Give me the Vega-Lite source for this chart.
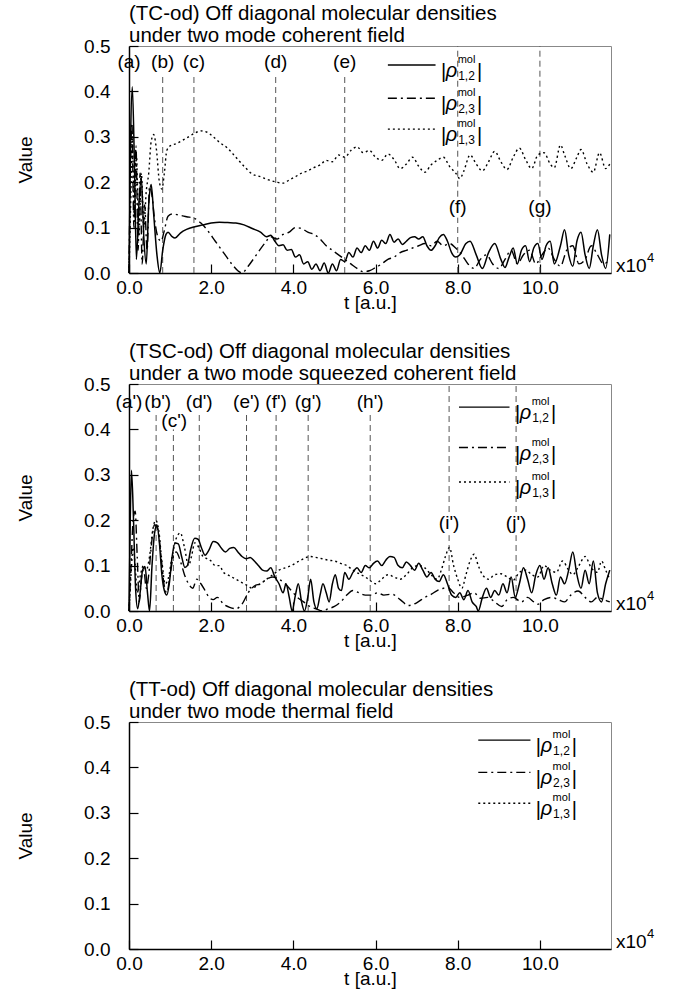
{
  "$schema": "https://vega.github.io/schema/vega-lite/v6.json",
  "padding": {"left": 16, "top": 3, "right": 0, "bottom": 0},
  "spacing": 28,
  "config": {
    "font": "Liberation Sans",
    "view": {"stroke": "#888", "strokeWidth": 1},
    "axis": {"domainColor": "black", "domainWidth": 1.5, "tickColor": "black", "tickSize": -9, "tickWidth": 1.2, "labelFontSize": 19, "labelColor": "black", "titleFontSize": 19, "titleFontWeight": "normal", "titleColor": "black", "grid": false, "labelFont": "Liberation Sans", "titleFont": "Liberation Sans", "labelFlush": false},
    "title": {"fontSize": 20.5, "fontWeight": "normal", "font": "Liberation Sans", "anchor": "start", "frame": "group", "lineHeight": 22, "offset": -9, "color": "black"},
    "text": {"font": "Liberation Sans", "color": "black"},
    "line": {"interpolate": "monotone"}
  },
  "datasets": {
    "p1a": [{"t":0,"v":0},{"t":0.04,"v":0.3},{"t":0.08,"v":0.41},{"t":0.13,"v":0.25},{"t":0.18,"v":0.03},{"t":0.24,"v":0.15},{"t":0.3,"v":0.21},{"t":0.36,"v":0.08},{"t":0.42,"v":0.02},{"t":0.48,"v":0.15},{"t":0.54,"v":0.195},{"t":0.6,"v":0.13},{"t":0.68,"v":0.04},{"t":0.75,"v":0},{"t":0.82,"v":0.05},{"t":0.9,"v":0.085},{"t":0.95,"v":0.09},{"t":1.05,"v":0.08},{"t":1.12,"v":0.077},{"t":1.25,"v":0.088},{"t":1.4,"v":0.096},{"t":1.6,"v":0.102},{"t":1.8,"v":0.106},{"t":2.0,"v":0.11},{"t":2.2,"v":0.112},{"t":2.4,"v":0.111},{"t":2.6,"v":0.11},{"t":2.8,"v":0.106},{"t":3.0,"v":0.098},{"t":3.2,"v":0.09},{"t":3.35,"v":0.08},{"t":3.45,"v":0.083},{"t":3.55,"v":0.07},{"t":3.65,"v":0.06},{"t":3.75,"v":0.062},{"t":3.85,"v":0.05},{"t":3.95,"v":0.052},{"t":4.05,"v":0.035},{"t":4.15,"v":0.04},{"t":4.25,"v":0.02},{"t":4.35,"v":0.025},{"t":4.45,"v":0.008},{"t":4.55,"v":0.02},{"t":4.65,"v":0.005},{"t":4.75,"v":0.022},{"t":4.85,"v":0},{"t":4.95,"v":0.02},{"t":5.05,"v":0.005},{"t":5.15,"v":0.03},{"t":5.25,"v":0.025},{"t":5.35,"v":0.045},{"t":5.45,"v":0.035},{"t":5.55,"v":0.055},{"t":5.65,"v":0.045},{"t":5.75,"v":0.06},{"t":5.85,"v":0.05},{"t":5.95,"v":0.07},{"t":6.05,"v":0.055},{"t":6.15,"v":0.072},{"t":6.25,"v":0.065},{"t":6.35,"v":0.085},{"t":6.45,"v":0.068},{"t":6.55,"v":0.075},{"t":6.65,"v":0.063},{"t":6.75,"v":0.07},{"t":6.85,"v":0.078},{"t":6.95,"v":0.08},{"t":7.05,"v":0.075},{"t":7.15,"v":0.08},{"t":7.25,"v":0.06},{"t":7.35,"v":0.05},{"t":7.45,"v":0.06},{"t":7.55,"v":0.078},{"t":7.65,"v":0.085},{"t":7.75,"v":0.07},{"t":7.85,"v":0.045},{"t":7.95,"v":0.035},{"t":8.05,"v":0.04},{"t":8.2,"v":0.065},{"t":8.3,"v":0.07},{"t":8.45,"v":0.04},{"t":8.6,"v":0.01},{"t":8.75,"v":0.045},{"t":8.9,"v":0.065},{"t":9.05,"v":0.03},{"t":9.15,"v":0.012},{"t":9.25,"v":0.035},{"t":9.35,"v":0.055},{"t":9.45,"v":0.02},{"t":9.55,"v":0.05},{"t":9.65,"v":0.06},{"t":9.75,"v":0.025},{"t":9.85,"v":0.055},{"t":9.95,"v":0.065},{"t":10.05,"v":0.03},{"t":10.15,"v":0.06},{"t":10.25,"v":0.07},{"t":10.35,"v":0.02},{"t":10.5,"v":0.06},{"t":10.6,"v":0.095},{"t":10.7,"v":0.04},{"t":10.8,"v":0.015},{"t":10.9,"v":0.07},{"t":11.0,"v":0.09},{"t":11.1,"v":0.04},{"t":11.2,"v":0.01},{"t":11.3,"v":0.06},{"t":11.4,"v":0.095},{"t":11.5,"v":0.04},{"t":11.6,"v":0.01},{"t":11.7,"v":0.085}],
    "p1b": [{"t":0,"v":0},{"t":0.03,"v":0.2},{"t":0.07,"v":0.33},{"t":0.12,"v":0.1},{"t":0.17,"v":0.28},{"t":0.22,"v":0.05},{"t":0.27,"v":0.22},{"t":0.32,"v":0.02},{"t":0.38,"v":0.15},{"t":0.44,"v":0.05},{"t":0.5,"v":0.19},{"t":0.56,"v":0.17},{"t":0.62,"v":0.12},{"t":0.7,"v":0.08},{"t":0.78,"v":0.07},{"t":0.85,"v":0.09},{"t":0.95,"v":0.125},{"t":1.05,"v":0.13},{"t":1.2,"v":0.128},{"t":1.4,"v":0.124},{"t":1.6,"v":0.12},{"t":1.75,"v":0.11},{"t":1.9,"v":0.095},{"t":2.1,"v":0.07},{"t":2.3,"v":0.045},{"t":2.5,"v":0.02},{"t":2.65,"v":0.005},{"t":2.75,"v":0},{"t":2.9,"v":0.015},{"t":3.1,"v":0.04},{"t":3.3,"v":0.065},{"t":3.45,"v":0.08},{"t":3.6,"v":0.075},{"t":3.75,"v":0.085},{"t":3.9,"v":0.09},{"t":4.05,"v":0.1},{"t":4.2,"v":0.098},{"t":4.35,"v":0.09},{"t":4.5,"v":0.085},{"t":4.65,"v":0.075},{"t":4.8,"v":0.06},{"t":4.95,"v":0.05},{"t":5.1,"v":0.04},{"t":5.25,"v":0.03},{"t":5.4,"v":0.02},{"t":5.55,"v":0.01},{"t":5.7,"v":0.003},{"t":5.85,"v":0.005},{"t":6.0,"v":0.012},{"t":6.15,"v":0.02},{"t":6.3,"v":0.03},{"t":6.45,"v":0.035},{"t":6.6,"v":0.045},{"t":6.75,"v":0.05},{"t":6.9,"v":0.055},{"t":7.05,"v":0.06},{"t":7.2,"v":0.065},{"t":7.35,"v":0.06},{"t":7.5,"v":0.07},{"t":7.65,"v":0.06},{"t":7.8,"v":0.065},{"t":7.95,"v":0.055},{"t":8.1,"v":0.04},{"t":8.25,"v":0.02},{"t":8.4,"v":0.01},{"t":8.55,"v":0.03},{"t":8.7,"v":0.04},{"t":8.85,"v":0.02},{"t":9.0,"v":0.01},{"t":9.15,"v":0.03},{"t":9.3,"v":0.05},{"t":9.45,"v":0.02},{"t":9.6,"v":0.04},{"t":9.75,"v":0.05},{"t":9.9,"v":0.02},{"t":10.05,"v":0.04},{"t":10.2,"v":0.055},{"t":10.35,"v":0.03},{"t":10.5,"v":0.015},{"t":10.65,"v":0.05},{"t":10.8,"v":0.06},{"t":10.95,"v":0.02},{"t":11.1,"v":0.03},{"t":11.25,"v":0.06},{"t":11.4,"v":0.04},{"t":11.55,"v":0.02},{"t":11.7,"v":0.03}],
    "p1c": [{"t":0,"v":0},{"t":0.04,"v":0.15},{"t":0.08,"v":0.3},{"t":0.13,"v":0.12},{"t":0.18,"v":0.26},{"t":0.24,"v":0.08},{"t":0.3,"v":0.22},{"t":0.36,"v":0.1},{"t":0.42,"v":0.18},{"t":0.48,"v":0.22},{"t":0.54,"v":0.29},{"t":0.6,"v":0.305},{"t":0.67,"v":0.27},{"t":0.74,"v":0.2},{"t":0.8,"v":0.185},{"t":0.86,"v":0.22},{"t":0.92,"v":0.27},{"t":1.0,"v":0.28},{"t":1.15,"v":0.285},{"t":1.3,"v":0.292},{"t":1.45,"v":0.3},{"t":1.6,"v":0.308},{"t":1.75,"v":0.313},{"t":1.9,"v":0.31},{"t":2.05,"v":0.3},{"t":2.2,"v":0.288},{"t":2.4,"v":0.275},{"t":2.6,"v":0.255},{"t":2.8,"v":0.235},{"t":3.0,"v":0.218},{"t":3.2,"v":0.212},{"t":3.4,"v":0.205},{"t":3.6,"v":0.2},{"t":3.75,"v":0.198},{"t":3.9,"v":0.205},{"t":4.05,"v":0.212},{"t":4.2,"v":0.22},{"t":4.35,"v":0.225},{"t":4.5,"v":0.232},{"t":4.65,"v":0.238},{"t":4.8,"v":0.248},{"t":4.95,"v":0.245},{"t":5.1,"v":0.26},{"t":5.25,"v":0.255},{"t":5.4,"v":0.27},{"t":5.55,"v":0.278},{"t":5.7,"v":0.265},{"t":5.85,"v":0.27},{"t":6.0,"v":0.255},{"t":6.15,"v":0.248},{"t":6.3,"v":0.262},{"t":6.45,"v":0.25},{"t":6.6,"v":0.23},{"t":6.75,"v":0.24},{"t":6.9,"v":0.255},{"t":7.05,"v":0.235},{"t":7.2,"v":0.222},{"t":7.35,"v":0.238},{"t":7.5,"v":0.248},{"t":7.65,"v":0.255},{"t":7.8,"v":0.235},{"t":7.95,"v":0.22},{"t":8.05,"v":0.208},{"t":8.15,"v":0.225},{"t":8.3,"v":0.26},{"t":8.45,"v":0.24},{"t":8.6,"v":0.225},{"t":8.75,"v":0.245},{"t":8.9,"v":0.268},{"t":9.05,"v":0.245},{"t":9.2,"v":0.228},{"t":9.35,"v":0.255},{"t":9.5,"v":0.275},{"t":9.65,"v":0.25},{"t":9.8,"v":0.23},{"t":9.95,"v":0.26},{"t":10.1,"v":0.265},{"t":10.25,"v":0.24},{"t":10.35,"v":0.232},{"t":10.5,"v":0.282},{"t":10.6,"v":0.26},{"t":10.75,"v":0.23},{"t":10.9,"v":0.255},{"t":11.0,"v":0.272},{"t":11.15,"v":0.24},{"t":11.3,"v":0.222},{"t":11.45,"v":0.265},{"t":11.6,"v":0.23},{"t":11.7,"v":0.24}],
    "p2a": [{"t":0,"v":0},{"t":0.03,"v":0.2},{"t":0.06,"v":0.31},{"t":0.11,"v":0.2},{"t":0.16,"v":0.05},{"t":0.21,"v":0.005},{"t":0.27,"v":0.04},{"t":0.33,"v":0.09},{"t":0.39,"v":0.098},{"t":0.45,"v":0.04},{"t":0.5,"v":0},{"t":0.56,"v":0.1},{"t":0.62,"v":0.17},{"t":0.68,"v":0.19},{"t":0.74,"v":0.15},{"t":0.8,"v":0.08},{"t":0.86,"v":0.045},{"t":0.92,"v":0.035},{"t":0.98,"v":0.06},{"t":1.05,"v":0.12},{"t":1.12,"v":0.15},{"t":1.2,"v":0.148},{"t":1.28,"v":0.12},{"t":1.36,"v":0.096},{"t":1.42,"v":0.1},{"t":1.5,"v":0.135},{"t":1.6,"v":0.16},{"t":1.68,"v":0.158},{"t":1.76,"v":0.14},{"t":1.85,"v":0.123},{"t":1.95,"v":0.135},{"t":2.05,"v":0.153},{"t":2.15,"v":0.15},{"t":2.25,"v":0.138},{"t":2.35,"v":0.13},{"t":2.45,"v":0.138},{"t":2.55,"v":0.14},{"t":2.65,"v":0.13},{"t":2.75,"v":0.12},{"t":2.85,"v":0.115},{"t":2.95,"v":0.118},{"t":3.05,"v":0.11},{"t":3.15,"v":0.1},{"t":3.25,"v":0.09},{"t":3.35,"v":0.088},{"t":3.45,"v":0.095},{"t":3.55,"v":0.075},{"t":3.65,"v":0.06},{"t":3.75,"v":0.04},{"t":3.82,"v":0.06},{"t":3.9,"v":0.03},{"t":3.97,"v":0},{"t":4.05,"v":0.035},{"t":4.12,"v":0.06},{"t":4.2,"v":0.02},{"t":4.27,"v":0},{"t":4.35,"v":0.03},{"t":4.42,"v":0.07},{"t":4.5,"v":0.02},{"t":4.57,"v":0.005},{"t":4.65,"v":0.035},{"t":4.72,"v":0.06},{"t":4.8,"v":0.04},{"t":4.87,"v":0.02},{"t":4.95,"v":0.06},{"t":5.02,"v":0.08},{"t":5.1,"v":0.05},{"t":5.17,"v":0.045},{"t":5.25,"v":0.085},{"t":5.35,"v":0.07},{"t":5.45,"v":0.085},{"t":5.55,"v":0.095},{"t":5.65,"v":0.085},{"t":5.75,"v":0.1},{"t":5.85,"v":0.095},{"t":5.95,"v":0.105},{"t":6.05,"v":0.11},{"t":6.15,"v":0.1},{"t":6.25,"v":0.112},{"t":6.35,"v":0.12},{"t":6.45,"v":0.118},{"t":6.55,"v":0.1},{"t":6.65,"v":0.095},{"t":6.75,"v":0.108},{"t":6.85,"v":0.1},{"t":6.95,"v":0.09},{"t":7.05,"v":0.105},{"t":7.15,"v":0.09},{"t":7.25,"v":0.075},{"t":7.35,"v":0.085},{"t":7.45,"v":0.07},{"t":7.55,"v":0.065},{"t":7.65,"v":0.08},{"t":7.75,"v":0.06},{"t":7.85,"v":0.035},{"t":7.95,"v":0.03},{"t":8.05,"v":0.04},{"t":8.15,"v":0.025},{"t":8.25,"v":0.045},{"t":8.35,"v":0.02},{"t":8.45,"v":0.01},{"t":8.5,"v":0},{"t":8.6,"v":0.03},{"t":8.7,"v":0.05},{"t":8.8,"v":0.03},{"t":8.9,"v":0.045},{"t":9.0,"v":0.035},{"t":9.1,"v":0.06},{"t":9.2,"v":0.04},{"t":9.3,"v":0.075},{"t":9.4,"v":0.03},{"t":9.5,"v":0.06},{"t":9.6,"v":0.095},{"t":9.7,"v":0.07},{"t":9.8,"v":0.04},{"t":9.9,"v":0.08},{"t":10.0,"v":0.1},{"t":10.1,"v":0.07},{"t":10.2,"v":0.095},{"t":10.3,"v":0.06},{"t":10.4,"v":0.035},{"t":10.5,"v":0.075},{"t":10.6,"v":0.06},{"t":10.7,"v":0.09},{"t":10.8,"v":0.13},{"t":10.9,"v":0.08},{"t":11.0,"v":0.05},{"t":11.1,"v":0.09},{"t":11.2,"v":0.06},{"t":11.3,"v":0.11},{"t":11.4,"v":0.04},{"t":11.5,"v":0.02},{"t":11.6,"v":0.06},{"t":11.7,"v":0.09}],
    "p2b": [{"t":0,"v":0},{"t":0.05,"v":0.1},{"t":0.1,"v":0.2},{"t":0.15,"v":0.22},{"t":0.2,"v":0.12},{"t":0.25,"v":0.02},{"t":0.3,"v":0.07},{"t":0.36,"v":0.09},{"t":0.42,"v":0.05},{"t":0.48,"v":0.08},{"t":0.55,"v":0.15},{"t":0.62,"v":0.19},{"t":0.7,"v":0.18},{"t":0.78,"v":0.12},{"t":0.85,"v":0.06},{"t":0.92,"v":0.04},{"t":1.0,"v":0.08},{"t":1.08,"v":0.12},{"t":1.15,"v":0.13},{"t":1.25,"v":0.11},{"t":1.35,"v":0.08},{"t":1.45,"v":0.06},{"t":1.55,"v":0.05},{"t":1.65,"v":0.07},{"t":1.75,"v":0.06},{"t":1.85,"v":0.045},{"t":1.95,"v":0.03},{"t":2.05,"v":0.025},{"t":2.15,"v":0.03},{"t":2.3,"v":0.015},{"t":2.45,"v":0.008},{"t":2.6,"v":0.005},{"t":2.75,"v":0.015},{"t":2.9,"v":0.04},{"t":3.05,"v":0.055},{"t":3.2,"v":0.06},{"t":3.35,"v":0.07},{"t":3.5,"v":0.075},{"t":3.65,"v":0.07},{"t":3.8,"v":0.06},{"t":3.95,"v":0.045},{"t":4.1,"v":0.03},{"t":4.25,"v":0.02},{"t":4.4,"v":0.01},{"t":4.55,"v":0.005},{"t":4.7,"v":0},{"t":4.85,"v":0.005},{"t":5.0,"v":0.01},{"t":5.15,"v":0.02},{"t":5.3,"v":0.035},{"t":5.45,"v":0.045},{"t":5.6,"v":0.04},{"t":5.75,"v":0.035},{"t":5.9,"v":0.035},{"t":6.05,"v":0.04},{"t":6.2,"v":0.035},{"t":6.4,"v":0.037},{"t":6.6,"v":0.025},{"t":6.8,"v":0.012},{"t":7.0,"v":0.018},{"t":7.2,"v":0.03},{"t":7.36,"v":0.037},{"t":7.5,"v":0.045},{"t":7.65,"v":0.05},{"t":7.76,"v":0.052},{"t":7.9,"v":0.04},{"t":8.05,"v":0.03},{"t":8.25,"v":0.035},{"t":8.4,"v":0.04},{"t":8.55,"v":0.028},{"t":8.73,"v":0.03},{"t":8.9,"v":0.02},{"t":9.07,"v":0.01},{"t":9.2,"v":0.025},{"t":9.35,"v":0.03},{"t":9.55,"v":0.02},{"t":9.7,"v":0.03},{"t":9.85,"v":0.02},{"t":9.95,"v":0.015},{"t":10.1,"v":0.025},{"t":10.28,"v":0.03},{"t":10.45,"v":0.025},{"t":10.6,"v":0.02},{"t":10.75,"v":0.035},{"t":10.93,"v":0.044},{"t":11.1,"v":0.03},{"t":11.25,"v":0.02},{"t":11.4,"v":0.03},{"t":11.55,"v":0.025},{"t":11.7,"v":0.02}],
    "p2c": [{"t":0,"v":0},{"t":0.05,"v":0.08},{"t":0.1,"v":0.14},{"t":0.15,"v":0.1},{"t":0.2,"v":0.04},{"t":0.28,"v":0.08},{"t":0.35,"v":0.1},{"t":0.42,"v":0.09},{"t":0.5,"v":0.12},{"t":0.58,"v":0.18},{"t":0.65,"v":0.2},{"t":0.72,"v":0.18},{"t":0.8,"v":0.11},{"t":0.88,"v":0.06},{"t":0.95,"v":0.07},{"t":1.05,"v":0.12},{"t":1.15,"v":0.16},{"t":1.25,"v":0.172},{"t":1.35,"v":0.14},{"t":1.45,"v":0.1},{"t":1.52,"v":0.12},{"t":1.6,"v":0.15},{"t":1.7,"v":0.14},{"t":1.8,"v":0.12},{"t":1.9,"v":0.115},{"t":2.0,"v":0.11},{"t":2.1,"v":0.1},{"t":2.2,"v":0.1},{"t":2.3,"v":0.085},{"t":2.4,"v":0.08},{"t":2.5,"v":0.075},{"t":2.6,"v":0.07},{"t":2.7,"v":0.065},{"t":2.8,"v":0.06},{"t":2.9,"v":0.055},{"t":3.0,"v":0.05},{"t":3.1,"v":0.055},{"t":3.2,"v":0.06},{"t":3.35,"v":0.07},{"t":3.5,"v":0.08},{"t":3.65,"v":0.09},{"t":3.8,"v":0.095},{"t":3.95,"v":0.1},{"t":4.1,"v":0.108},{"t":4.25,"v":0.115},{"t":4.4,"v":0.12},{"t":4.55,"v":0.118},{"t":4.7,"v":0.115},{"t":4.85,"v":0.112},{"t":5.0,"v":0.11},{"t":5.15,"v":0.105},{"t":5.3,"v":0.1},{"t":5.45,"v":0.09},{"t":5.6,"v":0.082},{"t":5.75,"v":0.075},{"t":5.9,"v":0.065},{"t":6.0,"v":0.06},{"t":6.15,"v":0.07},{"t":6.3,"v":0.08},{"t":6.45,"v":0.075},{"t":6.6,"v":0.07},{"t":6.75,"v":0.08},{"t":6.9,"v":0.095},{"t":7.05,"v":0.1},{"t":7.2,"v":0.095},{"t":7.35,"v":0.08},{"t":7.5,"v":0.07},{"t":7.6,"v":0.09},{"t":7.7,"v":0.12},{"t":7.8,"v":0.14},{"t":7.9,"v":0.1},{"t":8.0,"v":0.07},{"t":8.1,"v":0.05},{"t":8.2,"v":0.08},{"t":8.3,"v":0.11},{"t":8.4,"v":0.125},{"t":8.5,"v":0.1},{"t":8.6,"v":0.08},{"t":8.75,"v":0.07},{"t":8.9,"v":0.08},{"t":9.05,"v":0.082},{"t":9.2,"v":0.075},{"t":9.35,"v":0.068},{"t":9.5,"v":0.085},{"t":9.65,"v":0.09},{"t":9.8,"v":0.08},{"t":9.95,"v":0.075},{"t":10.1,"v":0.1},{"t":10.25,"v":0.09},{"t":10.4,"v":0.085},{"t":10.55,"v":0.11},{"t":10.7,"v":0.09},{"t":10.8,"v":0.08},{"t":10.95,"v":0.1},{"t":11.1,"v":0.12},{"t":11.25,"v":0.095},{"t":11.4,"v":0.085},{"t":11.5,"v":0.11},{"t":11.6,"v":0.09},{"t":11.7,"v":0.07}],
    "m1r": [{"t":0.82,"v":0,"v2":0.44},{"t":1.58,"v":0,"v2":0.44},{"t":3.57,"v":0,"v2":0.44},{"t":5.25,"v":0,"v2":0.44},{"t":8.0,"v":0,"v2":0.122},{"t":8.0,"v":0.168,"v2":0.5},{"t":10.0,"v":0,"v2":0.122},{"t":10.0,"v":0.168,"v2":0.5}],
    "m1l": [{"t":0,"v":0.465,"lab":"(a)"},{"t":0.82,"v":0.465,"lab":"(b)"},{"t":1.58,"v":0.465,"lab":"(c)"},{"t":3.57,"v":0.465,"lab":"(d)"},{"t":5.25,"v":0.465,"lab":"(e)"},{"t":8.0,"v":0.145,"lab":"(f)"},{"t":10.0,"v":0.145,"lab":"(g)"}],
    "m2r": [{"t":0.66,"v":0,"v2":0.44},{"t":1.08,"v":0,"v2":0.4},{"t":1.71,"v":0,"v2":0.44},{"t":2.86,"v":0,"v2":0.44},{"t":3.58,"v":0,"v2":0.44},{"t":4.36,"v":0,"v2":0.44},{"t":5.87,"v":0,"v2":0.44},{"t":7.79,"v":0,"v2":0.167},{"t":7.79,"v":0.218,"v2":0.5},{"t":9.42,"v":0,"v2":0.167},{"t":9.42,"v":0.218,"v2":0.5}],
    "m2l": [{"t":0,"v":0.46,"lab":"(a')"},{"t":0.7,"v":0.46,"lab":"(b')"},{"t":1.1,"v":0.418,"lab":"(c')"},{"t":1.71,"v":0.46,"lab":"(d')"},{"t":2.86,"v":0.46,"lab":"(e')"},{"t":3.58,"v":0.46,"lab":"(f')"},{"t":4.36,"v":0.46,"lab":"(g')"},{"t":5.87,"v":0.46,"lab":"(h')"},{"t":7.79,"v":0.194,"lab":"(i')"},{"t":9.42,"v":0.194,"lab":"(j')"}],
    "leg1": [{"s":"12","t":6.3,"t2":7.46,"v":0.458,"sub":"1,2"},{"s":"23","t":6.3,"t2":7.46,"v":0.385,"sub":"2,3"},{"s":"13","t":6.3,"t2":7.46,"v":0.317,"sub":"1,3"}],
    "leg2": [{"s":"12","t":8.03,"t2":9.26,"v":0.449,"sub":"1,2"},{"s":"23","t":8.03,"t2":9.26,"v":0.36,"sub":"2,3"},{"s":"13","t":8.03,"t2":9.26,"v":0.284,"sub":"1,3"}],
    "leg3": [{"s":"12","t":8.5,"t2":9.77,"v":0.46,"sub":"1,2"},{"s":"23","t":8.5,"t2":9.77,"v":0.389,"sub":"2,3"},{"s":"13","t":8.5,"t2":9.77,"v":0.321,"sub":"1,3"}],
    "xl": [{"t":11.73,"v":0}]
  },
  "vconcat": [
    {
      "width": 482, "height": 227,
      "title": {"text": ["(TC-od) Off diagonal molecular densities", "under two mode coherent field"]},
      "encoding": {
        "x": {"field": "t", "type": "quantitative", "scale": {"domain": [0, 11.73], "nice": false, "zero": false}, "axis": {"title": "t  [a.u.]", "values": [0,2,4,6,8,10], "format": ".1f", "labelPadding": 14, "titlePadding": -4}},
        "y": {"field": "v", "type": "quantitative", "scale": {"domain": [0, 0.5], "nice": false}, "axis": {"title": "Value", "values": [0,0.1,0.2,0.3,0.4,0.5], "format": ".1f", "labelPadding": 28, "titlePadding": 48}}
      },
      "layer": [
        {"data": {"name": "m1r"}, "mark": {"type": "rule", "strokeDash": [6,4], "color": "#555", "strokeWidth": 1}, "encoding": {"y2": {"field": "v2"}}},
        {"data": {"name": "m1l"}, "mark": {"type": "text", "fontSize": 19, "baseline": "middle"}, "encoding": {"text": {"field": "lab"}}},
        {"data": {"name": "p1c"}, "mark": {"type": "line", "strokeDash": [2,3], "color": "black", "strokeWidth": 1.4}},
        {"data": {"name": "p1b"}, "mark": {"type": "line", "strokeDash": [9,4,2,4], "color": "black", "strokeWidth": 1.4}},
        {"data": {"name": "p1a"}, "mark": {"type": "line", "color": "black", "strokeWidth": 1.5}},
        {"data": {"name": "leg1"}, "mark": {"type": "rule", "color": "black", "strokeWidth": 1.4}, "encoding": {"x2": {"field": "t2"}, "strokeDash": {"field": "s", "type": "nominal", "scale": {"domain": ["12","23","13"], "range": [[1,0],[9,4,2,4],[2,3]]}, "legend": null}}},
        {"data": {"name": "leg1"}, "mark": {"type": "text", "text": "|", "fontSize": 20, "dx": 8, "dy": 13, "align": "center", "baseline": "alphabetic"}, "encoding": {"x": {"field": "t2", "type": "quantitative", "scale": {"domain": [0, 11.73], "nice": false, "zero": false}}}},
        {"data": {"name": "leg1"}, "mark": {"type": "text", "text": "ρ", "fontSize": 20, "fontStyle": "italic", "dx": 16, "dy": 12, "align": "center", "baseline": "alphabetic"}, "encoding": {"x": {"field": "t2", "type": "quantitative", "scale": {"domain": [0, 11.73], "nice": false, "zero": false}}}},
        {"data": {"name": "leg1"}, "mark": {"type": "text", "text": "mol", "fontSize": 11, "dx": 31, "dy": -2, "align": "center", "baseline": "alphabetic"}, "encoding": {"x": {"field": "t2", "type": "quantitative", "scale": {"domain": [0, 11.73], "nice": false, "zero": false}}}},
        {"data": {"name": "leg1"}, "mark": {"type": "text", "fontSize": 12, "dx": 31, "dy": 15, "align": "center", "baseline": "alphabetic"}, "encoding": {"x": {"field": "t2", "type": "quantitative", "scale": {"domain": [0, 11.73], "nice": false, "zero": false}}, "text": {"field": "sub"}}},
        {"data": {"name": "leg1"}, "mark": {"type": "text", "text": "|", "fontSize": 20, "dx": 44, "dy": 13, "align": "center", "baseline": "alphabetic"}, "encoding": {"x": {"field": "t2", "type": "quantitative", "scale": {"domain": [0, 11.73], "nice": false, "zero": false}}}},
        {"data": {"name": "xl"}, "mark": {"type": "text", "text": "x10", "fontSize": 19, "dx": 5, "dy": -1, "align": "left", "baseline": "alphabetic"}},
        {"data": {"name": "xl"}, "mark": {"type": "text", "text": "4", "fontSize": 13, "dx": 36, "dy": -11, "align": "left", "baseline": "alphabetic"}}
      ]
    },
    {
      "width": 482, "height": 227,
      "title": {"text": ["(TSC-od) Off diagonal molecular densities", "under a two mode squeezed coherent field"]},
      "encoding": {
        "x": {"field": "t", "type": "quantitative", "scale": {"domain": [0, 11.73], "nice": false, "zero": false}, "axis": {"title": "t  [a.u.]", "values": [0,2,4,6,8,10], "format": ".1f", "labelPadding": 14, "titlePadding": -4}},
        "y": {"field": "v", "type": "quantitative", "scale": {"domain": [0, 0.5], "nice": false}, "axis": {"title": "Value", "values": [0,0.1,0.2,0.3,0.4,0.5], "format": ".1f", "labelPadding": 28, "titlePadding": 48}}
      },
      "layer": [
        {"data": {"name": "m2r"}, "mark": {"type": "rule", "strokeDash": [6,4], "color": "#555", "strokeWidth": 1}, "encoding": {"y2": {"field": "v2"}}},
        {"data": {"name": "m2l"}, "mark": {"type": "text", "fontSize": 19, "baseline": "middle"}, "encoding": {"text": {"field": "lab"}}},
        {"data": {"name": "p2c"}, "mark": {"type": "line", "strokeDash": [2,3], "color": "black", "strokeWidth": 1.4}},
        {"data": {"name": "p2b"}, "mark": {"type": "line", "strokeDash": [9,4,2,4], "color": "black", "strokeWidth": 1.4}},
        {"data": {"name": "p2a"}, "mark": {"type": "line", "color": "black", "strokeWidth": 1.5}},
        {"data": {"name": "leg2"}, "mark": {"type": "rule", "color": "black", "strokeWidth": 1.4}, "encoding": {"x2": {"field": "t2"}, "strokeDash": {"field": "s", "type": "nominal", "scale": {"domain": ["12","23","13"], "range": [[1,0],[9,4,2,4],[2,3]]}, "legend": null}}},
        {"data": {"name": "leg2"}, "mark": {"type": "text", "text": "|", "fontSize": 20, "dx": 8, "dy": 13, "align": "center", "baseline": "alphabetic"}, "encoding": {"x": {"field": "t2", "type": "quantitative", "scale": {"domain": [0, 11.73], "nice": false, "zero": false}}}},
        {"data": {"name": "leg2"}, "mark": {"type": "text", "text": "ρ", "fontSize": 20, "fontStyle": "italic", "dx": 16, "dy": 12, "align": "center", "baseline": "alphabetic"}, "encoding": {"x": {"field": "t2", "type": "quantitative", "scale": {"domain": [0, 11.73], "nice": false, "zero": false}}}},
        {"data": {"name": "leg2"}, "mark": {"type": "text", "text": "mol", "fontSize": 11, "dx": 31, "dy": -2, "align": "center", "baseline": "alphabetic"}, "encoding": {"x": {"field": "t2", "type": "quantitative", "scale": {"domain": [0, 11.73], "nice": false, "zero": false}}}},
        {"data": {"name": "leg2"}, "mark": {"type": "text", "fontSize": 12, "dx": 31, "dy": 15, "align": "center", "baseline": "alphabetic"}, "encoding": {"x": {"field": "t2", "type": "quantitative", "scale": {"domain": [0, 11.73], "nice": false, "zero": false}}, "text": {"field": "sub"}}},
        {"data": {"name": "leg2"}, "mark": {"type": "text", "text": "|", "fontSize": 20, "dx": 44, "dy": 13, "align": "center", "baseline": "alphabetic"}, "encoding": {"x": {"field": "t2", "type": "quantitative", "scale": {"domain": [0, 11.73], "nice": false, "zero": false}}}},
        {"data": {"name": "xl"}, "mark": {"type": "text", "text": "x10", "fontSize": 19, "dx": 5, "dy": -1, "align": "left", "baseline": "alphabetic"}},
        {"data": {"name": "xl"}, "mark": {"type": "text", "text": "4", "fontSize": 13, "dx": 36, "dy": -11, "align": "left", "baseline": "alphabetic"}}
      ]
    },
    {
      "width": 482, "height": 227,
      "title": {"text": ["(TT-od) Off diagonal molecular densities", "under two mode thermal field"]},
      "encoding": {
        "x": {"field": "t", "type": "quantitative", "scale": {"domain": [0, 11.73], "nice": false, "zero": false}, "axis": {"title": "t  [a.u.]", "values": [0,2,4,6,8,10], "format": ".1f", "labelPadding": 14, "titlePadding": -4}},
        "y": {"field": "v", "type": "quantitative", "scale": {"domain": [0, 0.5], "nice": false}, "axis": {"title": "Value", "values": [0,0.1,0.2,0.3,0.4,0.5], "format": ".1f", "labelPadding": 28, "titlePadding": 48}}
      },
      "layer": [
        {"data": {"name": "leg3"}, "mark": {"type": "rule", "color": "black", "strokeWidth": 1.4}, "encoding": {"x2": {"field": "t2"}, "strokeDash": {"field": "s", "type": "nominal", "scale": {"domain": ["12","23","13"], "range": [[1,0],[9,4,2,4],[2,3]]}, "legend": null}}},
        {"data": {"name": "leg3"}, "mark": {"type": "text", "text": "|", "fontSize": 20, "dx": 8, "dy": 13, "align": "center", "baseline": "alphabetic"}, "encoding": {"x": {"field": "t2", "type": "quantitative", "scale": {"domain": [0, 11.73], "nice": false, "zero": false}}}},
        {"data": {"name": "leg3"}, "mark": {"type": "text", "text": "ρ", "fontSize": 20, "fontStyle": "italic", "dx": 16, "dy": 12, "align": "center", "baseline": "alphabetic"}, "encoding": {"x": {"field": "t2", "type": "quantitative", "scale": {"domain": [0, 11.73], "nice": false, "zero": false}}}},
        {"data": {"name": "leg3"}, "mark": {"type": "text", "text": "mol", "fontSize": 11, "dx": 31, "dy": -2, "align": "center", "baseline": "alphabetic"}, "encoding": {"x": {"field": "t2", "type": "quantitative", "scale": {"domain": [0, 11.73], "nice": false, "zero": false}}}},
        {"data": {"name": "leg3"}, "mark": {"type": "text", "fontSize": 12, "dx": 31, "dy": 15, "align": "center", "baseline": "alphabetic"}, "encoding": {"x": {"field": "t2", "type": "quantitative", "scale": {"domain": [0, 11.73], "nice": false, "zero": false}}, "text": {"field": "sub"}}},
        {"data": {"name": "leg3"}, "mark": {"type": "text", "text": "|", "fontSize": 20, "dx": 44, "dy": 13, "align": "center", "baseline": "alphabetic"}, "encoding": {"x": {"field": "t2", "type": "quantitative", "scale": {"domain": [0, 11.73], "nice": false, "zero": false}}}},
        {"data": {"name": "xl"}, "mark": {"type": "text", "text": "x10", "fontSize": 19, "dx": 5, "dy": -1, "align": "left", "baseline": "alphabetic"}},
        {"data": {"name": "xl"}, "mark": {"type": "text", "text": "4", "fontSize": 13, "dx": 36, "dy": -11, "align": "left", "baseline": "alphabetic"}}
      ]
    }
  ]
}
